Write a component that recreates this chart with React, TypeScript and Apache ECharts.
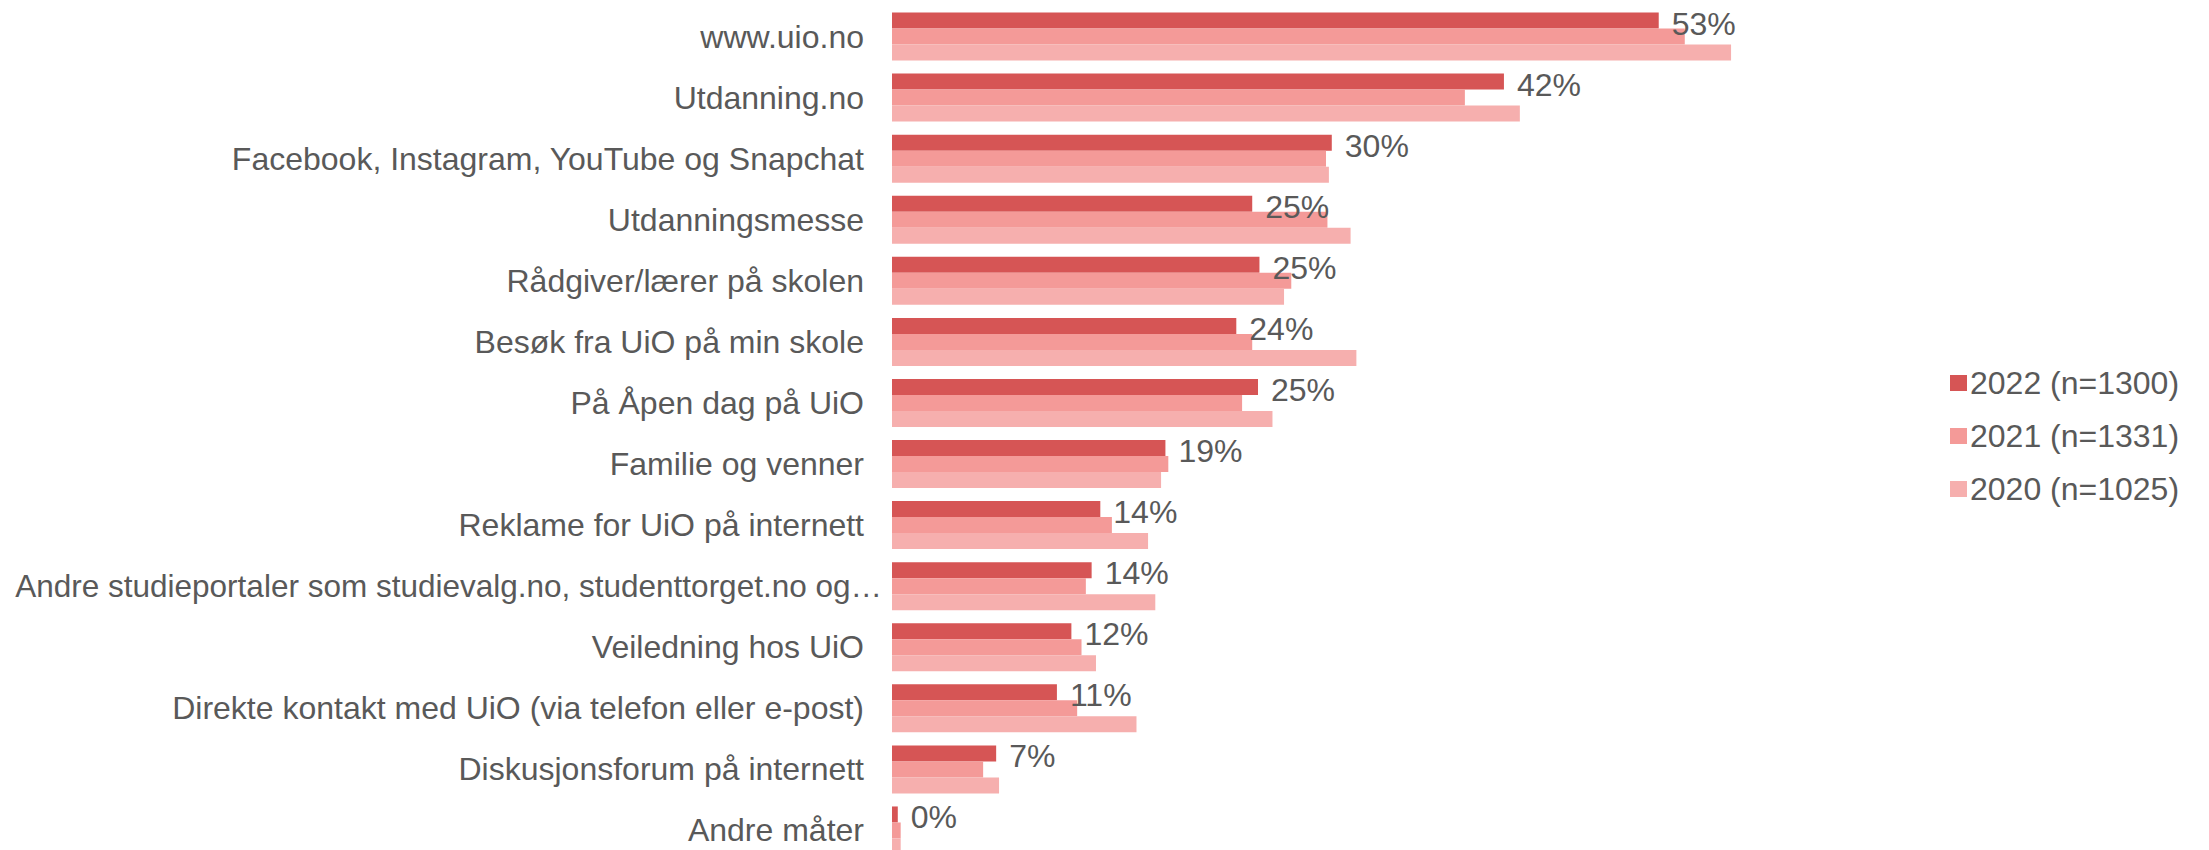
import React, { useEffect, useRef } from "react";
import * as echarts from "echarts";

const categories = [
  "www.uio.no",
  "Utdanning.no",
  "Facebook, Instagram, YouTube og Snapchat",
  "Utdanningsmesse",
  "Rådgiver/lærer på skolen",
  "Besøk fra UiO på min skole",
  "På Åpen dag på UiO",
  "Familie og venner",
  "Reklame for UiO på internett",
  "Andre studieportaler som studievalg.no, studenttorget.no og…",
  "Veiledning hos UiO",
  "Direkte kontakt med UiO (via telefon eller e-post)",
  "Diskusjonsforum på internett",
  "Andre måter",
];

const seriesNames = ["2022 (n=1300)", "2021 (n=1331)", "2020 (n=1025)"];

const values2022 = [53, 42.3, 30.4, 24.9, 25.4, 23.8, 25.3, 18.9, 14.4, 13.8, 12.4, 11.4, 7.2, 0.4];
const values2021 = [54.8, 39.6, 30.0, 30.1, 27.6, 24.9, 24.2, 19.1, 15.2, 13.4, 13.1, 12.8, 6.3, 0.6];
const values2020 = [58.0, 43.4, 30.2, 31.7, 27.1, 32.1, 26.3, 18.6, 17.7, 18.2, 14.1, 16.9, 7.4, 0.6];

const colors = ["#d65555", "#f49a98", "#f6afae"];

const FONT = "'Liberation Sans', Arial, sans-serif";
const TEXT = "#595959";

export default function App() {
  const ref = useRef<HTMLDivElement>(null);

  useEffect(() => {
    if (!ref.current) return;
    const chart = echarts.init(ref.current, undefined, { renderer: "svg" });
    const data = [values2022, values2021, values2020];
    chart.setOption({
      animation: false,
      textStyle: { fontFamily: FONT },
      grid: {
        left: 892,
        top: 6,
        width: 868,
        height: 855,
        containLabel: false,
        outerBoundsMode: "none",
      },
      legend: {
        orient: "vertical",
        left: 1945,
        top: 362,
        icon: "rect",
        itemWidth: 17,
        itemHeight: 16,
        itemGap: 21,
        data: seriesNames,
        textStyle: { fontSize: 32, color: TEXT, fontFamily: FONT, lineHeight: 32, padding: [0, 0, 0, -2] },
      },
      xAxis: {
        type: "value",
        min: 0,
        max: 60,
        show: false,
      },
      yAxis: {
        type: "category",
        data: categories,
        inverse: true,
        axisLine: { show: false },
        axisTick: { show: false },
        axisLabel: {
          fontSize: 32,
          color: TEXT,
          margin: 10,
          fontFamily: FONT,
          formatter: (v: string) => (v.endsWith("…") ? `{l|${v}}` : `{n|${v}}`),
          rich: {
            n: { fontSize: 32, color: TEXT, fontFamily: FONT, padding: [0, 18, 0, 0] },
            l: { fontSize: 31.5, color: TEXT, fontFamily: FONT },
          },
        },
      },
      series: seriesNames.map((name, i) => ({
        name,
        type: "bar",
        data: data[i],
        barWidth: 16,
        barGap: "0%",
        itemStyle: { color: colors[i] },
        label:
          i === 0
            ? {
                show: true,
                position: "right",
                distance: 13,
                offset: [0, 3],
                fontSize: 32,
                color: TEXT,
                fontFamily: FONT,
                formatter: (p: any) => Math.round(p.value) + "%",
              }
            : { show: false },
      })),
    });
    return () => chart.dispose();
  }, []);

  return (
    <div
      ref={ref}
      style={{ position: "fixed", left: 0, top: 0, width: 2209, height: 870, background: "#fff" }}
    />
  );
}
